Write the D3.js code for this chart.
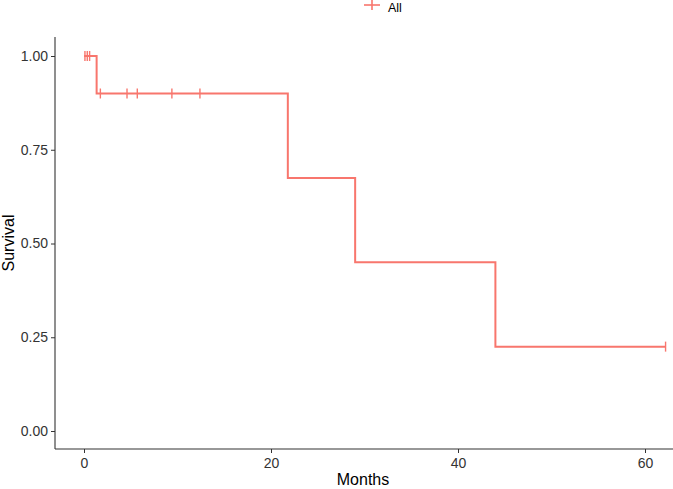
<!DOCTYPE html>
<html>
<head>
<meta charset="utf-8">
<script src="https://cdn.jsdelivr.net/npm/d3@7"></script>
<style>
body { margin: 0; background: #fff; }
text { font-family: "Liberation Sans", Arial, sans-serif; }
</style>
</head>
<body>
<div id="chart"></div>
<script>
var w = 673;
var h = 489;

// step points of the survival curve
var stepTimes = [0, 1.35, 21.8, 29.0, 44.0];
var stepSurv = [1.0, 0.9, 0.675, 0.45, 0.225];
var endTime = 62.2;

// censored observations
var censorTimes = [0.1, 0.35, 0.6, 1.75, 4.6, 5.7, 9.4, 12.4, 62.2];

var xTicks = [0, 20, 40, 60];
var yTicks = [0, 0.25, 0.5, 0.75, 1];
var col = "#F8766D";

var svg = d3.select("#chart").append("svg").attr("width", w).attr("height", h);

var x = d3.scaleLinear().domain([0, 60]).range([84, 645]);
var y = d3.scaleLinear().domain([0, 1]).range([431, 56]);

function survAt(t) {
	var s = 1;
	for (var i = 0; i < stepTimes.length; i++) {
		if (stepTimes[i] <= t) s = stepSurv[i];
	}
	return s;
}

// axes
var xAxis = svg.append("g").attr("transform", "translate(0,449)")
	.call(d3.axisBottom(x).tickValues(xTicks).tickSize(4).tickPadding(5).tickFormat(d3.format("d")));
var yAxis = svg.append("g").attr("transform", "translate(55,0)")
	.call(d3.axisLeft(y).tickValues(yTicks).tickSize(4).tickPadding(3).tickFormat(d3.format(".2f")));

[xAxis, yAxis].forEach(function(a) {
	a.select(".domain").remove();
	a.selectAll("line").attr("stroke", "#333").attr("stroke-width", 1);
	a.selectAll("text").attr("font-size", 14).attr("fill", "#333");
});

svg.append("line").attr("x1", 55).attr("x2", 673).attr("y1", 449).attr("y2", 449)
	.attr("stroke", "#333").attr("stroke-width", 1.1);
svg.append("line").attr("x1", 55).attr("x2", 55).attr("y1", 37).attr("y2", 449)
	.attr("stroke", "#333").attr("stroke-width", 1.1);

// curve
var pts = [];
for (var i = 0; i < stepTimes.length; i++) pts.push([stepTimes[i], stepSurv[i]]);
pts.push([endTime, stepSurv[stepSurv.length - 1]]);

var line = d3.line().x(function(d) { return x(d[0]); }).y(function(d) { return y(d[1]); }).curve(d3.curveStepAfter);
svg.append("path").datum(pts).attr("d", line)
	.attr("fill", "none").attr("stroke", col).attr("stroke-width", 2);

// censor marks
svg.selectAll(".cens").data(censorTimes).enter().append("line")
	.attr("x1", function(d) { return x(d); })
	.attr("x2", function(d) { return x(d); })
	.attr("y1", function(d) { return y(survAt(d)) - 5; })
	.attr("y2", function(d) { return y(survAt(d)) + 5; })
	.attr("stroke", col).attr("stroke-width", 1.4);

// axis titles
svg.append("text").text("Months").attr("x", 363).attr("y", 485)
	.attr("text-anchor", "middle").attr("font-size", 16).attr("fill", "#000");
svg.append("text").text("Survival").attr("transform", "translate(14,243) rotate(-90)")
	.attr("text-anchor", "middle").attr("font-size", 16).attr("fill", "#000");

// legend
svg.append("line").attr("x1", 364).attr("x2", 380).attr("y1", 5).attr("y2", 5)
	.attr("stroke", col).attr("stroke-width", 1.6);
svg.append("line").attr("x1", 372).attr("x2", 372).attr("y1", 0).attr("y2", 10)
	.attr("stroke", col).attr("stroke-width", 1.6);
svg.append("text").text("All").attr("x", 388).attr("y", 12)
	.attr("font-size", 12.5).attr("fill", "#000");
</script>
</body>
</html>
